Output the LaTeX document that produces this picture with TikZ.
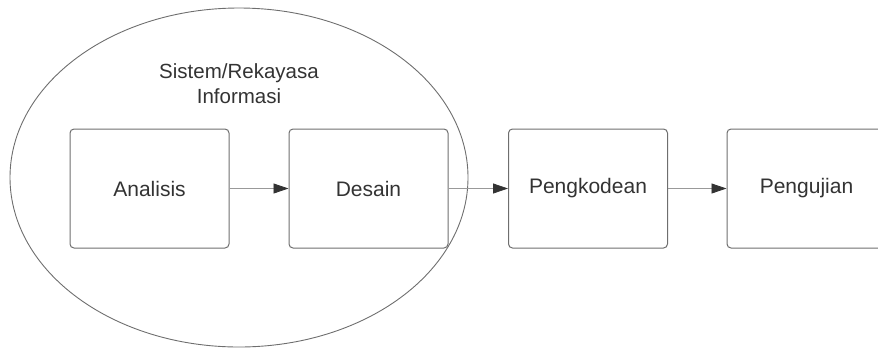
\documentclass[tikz,border=0pt]{standalone}
\usepackage{fontspec}
\setmainfont{Liberation Sans}
\usetikzlibrary{arrows.meta,shapes.geometric}
\definecolor{txt}{HTML}{333333}
\definecolor{edge}{HTML}{6E6E6E}
\definecolor{conn}{HTML}{999999}
\begin{document}
\begin{tikzpicture}[x=1pt,y=-1pt,
  proc/.style={draw=edge, line width=1pt, rounded corners=4pt, minimum width=159pt, minimum height=119pt, inner sep=0pt, text=txt, font=\fontsize{21}{25}\selectfont},
  flow/.style={draw=conn, line width=0.8pt, -{Triangle[length=15pt,width=10pt,color=txt]}}]
\useasboundingbox (0,0) rectangle (878,349);
\begin{scope}
\clip (0,0) rectangle (878,349);
\node[draw=edge, line width=0.9pt, ellipse, minimum width=458pt, minimum height=339pt, inner sep=0pt] (group) at (239,177.5) {};
\node[text=txt, font=\fontsize{20.5}{25}\selectfont, align=center] (title) at (239,84) {Sistem/Rekayasa\\Informasi};
\node[proc] (a) at (149.5,188.5) {Analisis};
\node[proc] (d) at (368.5,188.5) {Desain};
\node[proc] (p) at (588,188.5) {Pengkodean};
\node[proc] (u) at (806.5,188.5) {Pengujian};
\draw[flow] (a) -- (d);
\draw[flow] (d) -- (p);
\draw[flow] (p) -- (u);
\end{scope}
\end{tikzpicture}
\end{document}
